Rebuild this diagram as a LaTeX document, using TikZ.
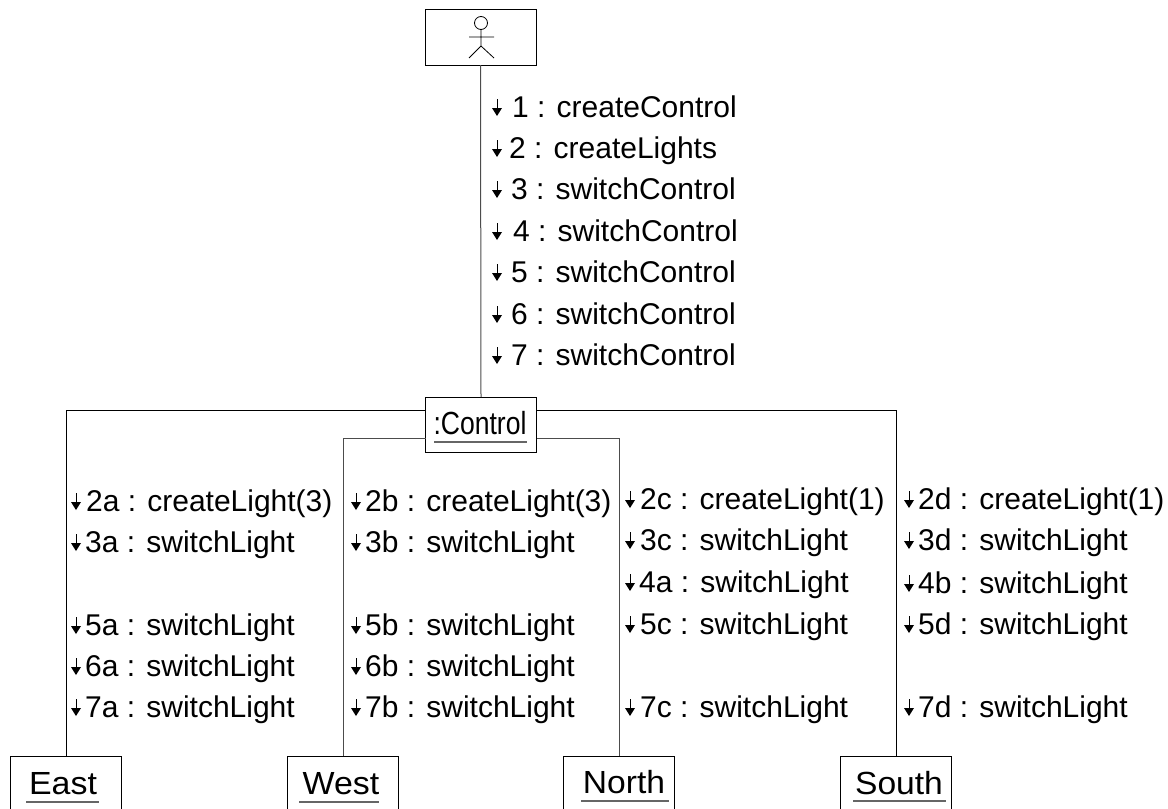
\documentclass[tikz,border=0pt]{standalone}
\usepackage{fontspec}
\usepackage{graphicx}
\setmainfont{Liberation Sans}
\newcommand{\msgfont}{\fontsize{30}{32}\selectfont}
\newcommand{\boxfont}{\fontsize{32}{34}\selectfont}
\newcommand{\msg}[4]{%
  \draw[line width=1pt,black] (#1,#2-8) -- (#1,#2+2);
  \fill[black] (#1-5,#2+1) -- (#1+5,#2+1) -- (#1,#2+9) -- cycle;
  \node[msgtext] at (#3,#2+10) {#4};
}
\begin{document}
\begin{tikzpicture}[x=1pt,y=-1pt,
  objbox/.style={draw=black,line width=1pt,fill=white,minimum width=111pt,inner sep=0pt,outer sep=0pt},
  link/.style={line width=1pt,black},
  linkgray/.style={line width=1pt,black!70},
  msgtext/.style={anchor=base west,inner sep=0pt,font=\msgfont},
  under/.style={line width=1.2pt,black!60},
  boxlabel/.style={anchor=base,inner sep=0pt,font=\boxfont},
  actorline/.style={line width=0.8pt,black}]
\useasboundingbox (0,0) rectangle (1168,809);
% boxes
\node[objbox,minimum height=56pt] (actor) at (480.5,37) {};
\node[objbox,minimum height=55pt] (control) at (481,424.5) {};
\node[objbox,minimum height=60pt] (east) at (66,786) {};
\node[objbox,minimum height=60pt] (west) at (343,786) {};
\node[objbox,minimum height=60pt] (north) at (619,786) {};
\node[objbox,minimum height=60pt] (south) at (896,786) {};
% connectors
\draw[linkgray] (actor.south) -- (control.north);
\draw[link] (control.west |- 0,410) -- (66,410) -- (east.north);
\draw[linkgray] (control.west |- 0,438) -- (343,438) -- (west.north);
\draw[link] (control.east |- 0,410) -- (896,410) -- (south.north);
\draw[linkgray] (control.east |- 0,438) -- (619,438) -- (north.north);
% actor
\draw[actorline] (481,23) circle (6.5);
\draw[actorline] (481,29.5) -- (481,46) (469,37) -- (494,37) (469,58) -- (481,46) -- (494,58);
% box labels
\node[boxlabel] (controllabel) at (480,434) {\scalebox{0.83}[1]{:Control}};
\draw[under] (434,442) -- (527,442);
\node[boxlabel] (eastlabel) at (63,794) {\scalebox{1.06}[1]{East}};
\draw[under] (26,802) -- (99,802);
\node[boxlabel] (westlabel) at (341,794) {\scalebox{1.06}[1]{West}};
\draw[under] (299,802) -- (379,802);
\node[boxlabel] (northlabel) at (624,793) {\scalebox{1.05}[1]{North}};
\draw[under] (581,801) -- (669,801);
\node[boxlabel] (southlabel) at (899,794) {\scalebox{1.05}[1]{South}};
\draw[under] (853,801) -- (946,801);
% centre column
\msg{497}{107}{512}{1 : createControl}
\msg{497}{148}{509}{2 : createLights}
\msg{497}{189}{511}{3 : switchControl}
\msg{497}{231}{513}{4 : switchControl}
\msg{497}{272}{511}{5 : switchControl}
\msg{497}{314}{511}{6 : switchControl}
\msg{497}{355}{511}{7 : switchControl}
% east
\msg{76}{501}{86}{2a : createLight(3)}
\msg{76}{542}{85}{3a : switchLight}
\msg{76}{625}{85}{5a : switchLight}
\msg{76}{666}{85}{6a : switchLight}
\msg{76}{707}{85}{7a : switchLight}
% west
\msg{356}{501}{365}{2b : createLight(3)}
\msg{356}{542}{365}{3b : switchLight}
\msg{356}{625}{365}{5b : switchLight}
\msg{356}{666}{365}{6b : switchLight}
\msg{356}{707}{365}{7b : switchLight}
% north
\msg{630}{499}{640}{2c : createLight(1)}
\msg{630}{540}{640}{3c : switchLight}
\msg{630}{582}{639}{4a : switchLight}
\msg{630}{624}{640}{5c : switchLight}
\msg{630}{707}{640}{7c : switchLight}
% south
\msg{909}{499}{918}{2d : createLight(1)}
\msg{909}{540}{918}{3d : switchLight}
\msg{909}{583}{918}{4b : switchLight}
\msg{909}{624}{918}{5d : switchLight}
\msg{909}{707}{918}{7d : switchLight}
\end{tikzpicture}
\end{document}
